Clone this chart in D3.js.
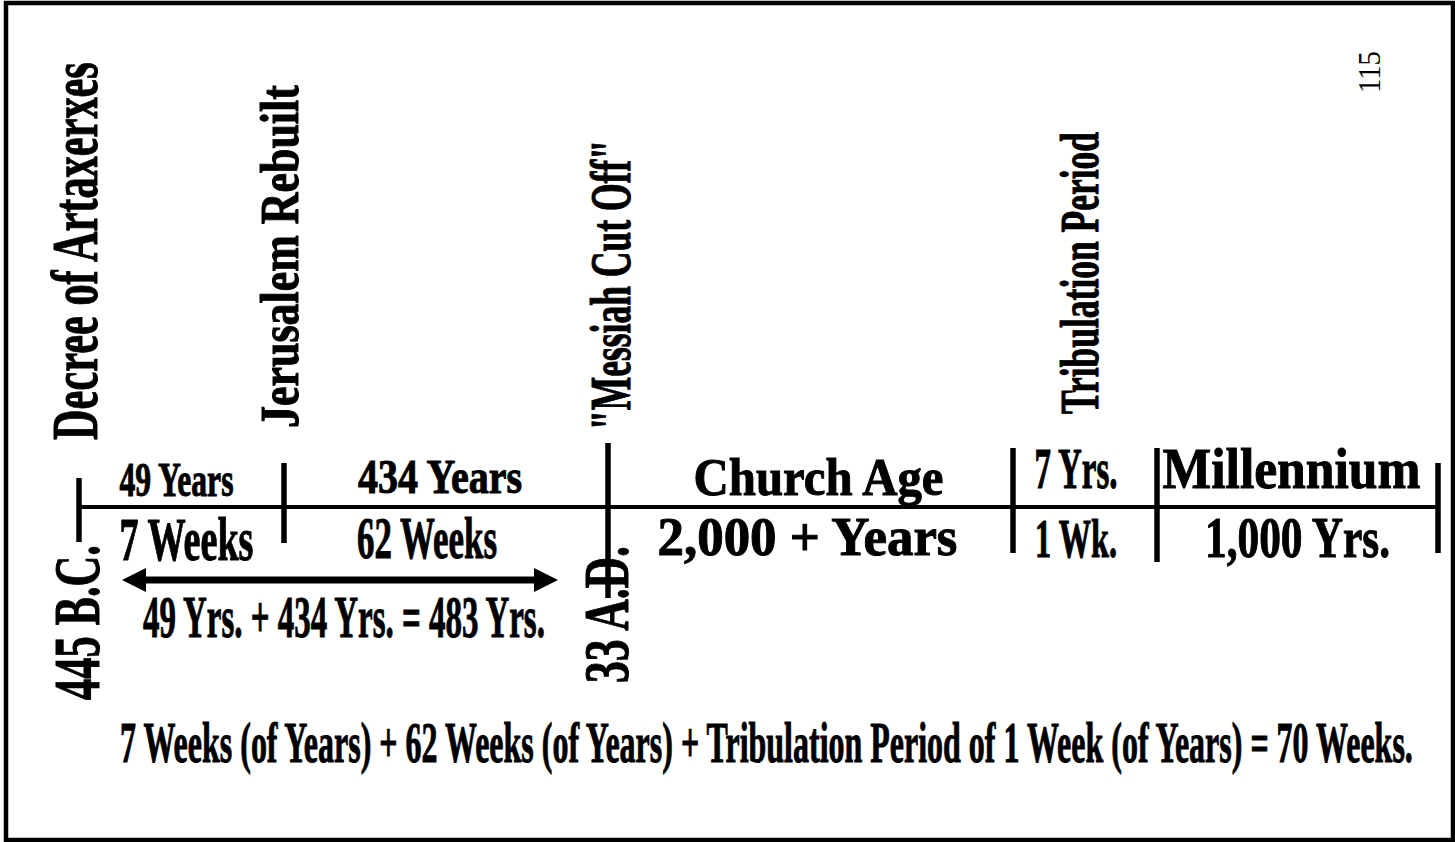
<!DOCTYPE html>
<html>
<head>
<meta charset="utf-8">
<script src="https://cdn.jsdelivr.net/npm/d3@7/dist/d3.min.js"></script>
<style>
  html, body { margin: 0; padding: 0; background: #fff; }
  svg text { font-family: "Times New Roman", "Liberation Serif", Tinos, "DejaVu Serif", serif; fill: #000; }
</style>
</head>
<body>
<div id="chart"></div>
<script>
// years counted from the decree (445 B.C.), schematic, not to scale
const breakYears = [0, 49, 483, 2483, 2490, 3490];

const eventLabels = ["Decree of Artaxerxes", "Jerusalem Rebuilt", "\"Messiah Cut Off\"", "Tribulation Period"];
const eventAt = [0, 49, 483, 2486.5];

const dateLabels = ["445 B.C.", "33 A.D."];
const dateAt = [0, 483];

const aboveLabels = ["49 Years", "434 Years", "Church Age", "7 Yrs.", "Millennium"];
const belowLabels = ["7 Weeks", "62 Weeks", "2,000 + Years", "1 Wk.", "1,000 Yrs."];

const sumLabel = "49 Yrs. + 434 Yrs. = 483 Yrs.";
const totalLabel = "7 Weeks (of Years) + 62 Weeks (of Years) + Tribulation Period of 1 Week (of Years) = 70 Weeks.";
const pageLabel = "115";

const width = 1455, height = 842;
const lineY = 507;

// piecewise scale: the picture is schematic
const x = d3.scaleLinear()
    .domain(breakYears)
    .range([79, 284, 608, 1013, 1157, 1438]);

const svg = d3.select("#chart")
    .append("svg")
    .attr("width", width)
    .attr("height", height)
    .attr("viewBox", `0 0 ${width} ${height}`);

// draws a text, then squeezes it sideways to the wanted length
function fitText(str, o) {
    const bold = (o.weight || "bold") === "bold";
    const t = svg.append("text")
        .attr("font-size", o.size)
        .attr("font-weight", o.weight || "bold")
        .attr("text-anchor", o.anchor || "start")
        .attr("stroke", bold ? "#000" : "none")
        .attr("stroke-width", bold ? 1 : 0)
        .text(str);
    const natural = t.node().getComputedTextLength();
    t.attr("transform", `translate(${o.x},${o.y}) rotate(${o.rotate || 0}) scale(${o.len / natural},1)`);
    return t;
}

// frame
svg.append("rect")
    .attr("x", 6).attr("y", 3)
    .attr("width", 1447).attr("height", 837)
    .attr("fill", "none")
    .attr("stroke", "#000")
    .attr("stroke-width", 4.5);

// main line
svg.append("line")
    .attr("x1", x(0)).attr("x2", x(3490))
    .attr("y1", lineY).attr("y2", lineY)
    .attr("stroke", "#000")
    .attr("stroke-width", 4);

// tick extents [top, bottom] for each break
const tickSpan = [[478, 542], [463, 543], [443, 598], [448, 553], [448, 562], [463, 553]];
svg.selectAll(".tick")
    .data(breakYears)
    .enter().append("line")
    .attr("class", "tick")
    .attr("x1", d => x(d)).attr("x2", d => x(d))
    .attr("y1", (d, i) => tickSpan[i][0])
    .attr("y2", (d, i) => tickSpan[i][1])
    .attr("stroke", "#000")
    .attr("stroke-width", 5.5);

// segment labels
const segMid = i => (x(breakYears[i]) + x(breakYears[i + 1])) / 2;
const aboveStyle = [
    { dx: -5, y: 496, size: 48, len: 114 },
    { dx: -6, y: 493, size: 48, len: 164 },
    { dx: 8, y: 495, size: 53, len: 250 },
    { dx: -9, y: 488, size: 56, len: 83 },
    { dx: -6, y: 488, size: 57, len: 258 }
];
const belowStyle = [
    { dx: 5, y: 560, size: 62, len: 134 },
    { dx: -19, y: 558, size: 60, len: 140 },
    { dx: -3, y: 555, size: 54, len: 300 },
    { dx: -9, y: 557, size: 55, len: 82 },
    { dx: 0, y: 557, size: 57, len: 185 }
];
aboveLabels.forEach((d, i) => fitText(d, { x: segMid(i) + aboveStyle[i].dx, y: aboveStyle[i].y,
    size: aboveStyle[i].size, len: aboveStyle[i].len, anchor: "middle" }));
belowLabels.forEach((d, i) => fitText(d, { x: segMid(i) + belowStyle[i].dx, y: belowStyle[i].y,
    size: belowStyle[i].size, len: belowStyle[i].len, anchor: "middle" }));

// vertical event labels
const eventStyle = [
    { dx: 18, y: 440, size: 66, len: 378 },
    { dx: 14, y: 428, size: 55, len: 343 },
    { dx: 22, y: 430, size: 56, len: 290 },
    { dx: 13, y: 414, size: 55, len: 282 }
];
eventLabels.forEach((d, i) => fitText(d, { x: x(eventAt[i]) + eventStyle[i].dx, y: eventStyle[i].y,
    rotate: -90, size: eventStyle[i].size, len: eventStyle[i].len }));

// vertical dates
const dateStyle = [
    { dx: 20, y: 700, size: 66, len: 155 },
    { dx: 20, y: 683, size: 63, len: 137 }
];
dateLabels.forEach((d, i) => fitText(d, { x: x(dateAt[i]) + dateStyle[i].dx, y: dateStyle[i].y,
    rotate: -90, size: dateStyle[i].size, len: dateStyle[i].len }));

// 483 year double arrow
const ax0 = x(0) + 43, ax1 = x(483) - 50, ay = 580;
const head = 24, half = 12, shaft = 3.5;
svg.append("path")
    .attr("d", `M${ax0},${ay} L${ax0 + head},${ay - half} L${ax0 + head},${ay - shaft}
        L${ax1 - head},${ay - shaft} L${ax1 - head},${ay - half} L${ax1},${ay}
        L${ax1 - head},${ay + half} L${ax1 - head},${ay + shaft} L${ax0 + head},${ay + shaft}
        L${ax0 + head},${ay + half} Z`)
    .attr("fill", "#000");

fitText(sumLabel, { x: (ax0 + ax1) / 2 + 4, y: 637, size: 60, len: 402, anchor: "middle" });

// bottom summary
fitText(totalLabel, { x: 120, y: 762, size: 58, len: 1293 });

// page number
fitText(pageLabel, { x: 1380, y: 93, rotate: -90, size: 32, len: 42, weight: "normal" });
</script>
</body>
</html>
